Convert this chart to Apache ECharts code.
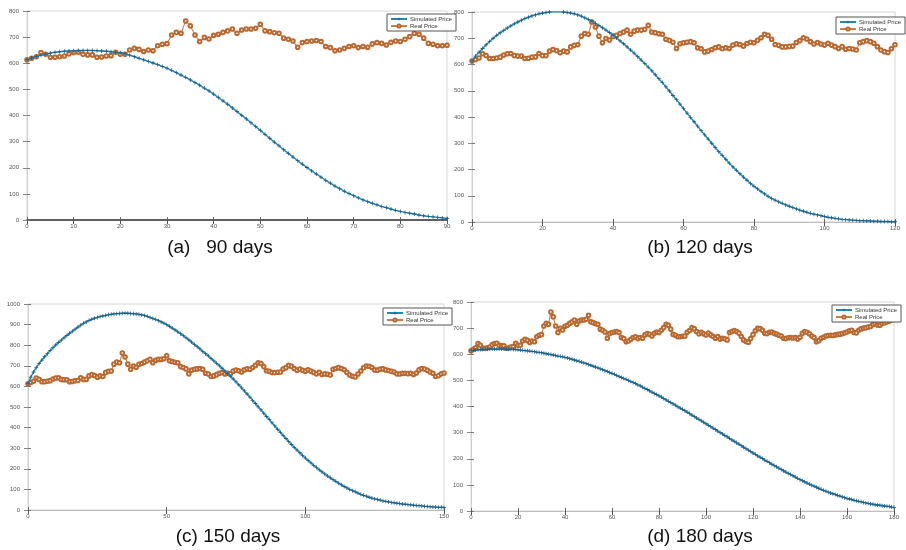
<!DOCTYPE html>
<html>
<head>
<meta charset="utf-8">
<script src="https://cdn.jsdelivr.net/npm/echarts@6/dist/echarts.min.js"></script>
<style>
  html, body { margin: 0; padding: 0; background: #fff; }
  #chart { width: 906px; height: 550px; }
</style>
</head>
<body>
<div id="chart"></div>
<script>
// Real closing price, one value per day (days 0..180)
const realPrice = [
  613, 619, 625, 641, 634, 623, 623, 625, 628, 636,
  641, 642, 634, 632, 632, 623, 624, 628, 629, 642,
  634, 634, 651, 657, 653, 645, 651, 648, 667, 673,
  675, 708, 718, 715, 762, 743, 708, 683, 699, 693,
  707, 711, 718, 724, 731, 715, 727, 731, 731, 734,
  749, 724, 721, 717, 715, 696, 692, 685, 661, 679,
  683, 685, 687, 683, 664, 660, 648, 651, 657, 664,
  667, 660, 664, 661, 674, 679, 676, 670, 680, 685,
  683, 692, 702, 715, 711, 696, 676, 673, 667, 667,
  669, 670, 684, 691, 702, 697, 687, 678, 684, 678,
  674, 681, 674, 668, 661, 668, 658, 661, 659, 655,
  683, 687, 691, 687, 681, 668, 655, 649, 646, 660,
  675, 690, 699, 698, 692, 680, 679, 684, 685, 680,
  677, 673, 670, 661, 660, 663, 664, 662, 664, 658,
  665, 680, 687, 684, 678, 670, 664, 648, 652, 661,
  665, 670, 672, 673, 672, 674, 676, 677, 679, 682,
  685, 690, 692, 683, 682, 692, 697, 700, 701, 704,
  706, 714, 717, 712, 711, 718, 721, 724, 727, 732,
  755
];

// Simulated price, 90-day horizon (days 0..90)
const simulated90 = [
  613, 620, 626, 631, 635, 639, 642, 644, 646, 647,
  648, 649, 649, 649, 649, 648, 647, 646, 644, 642,
  640, 636, 631, 625, 619, 613, 607, 601, 595, 588,
  581, 573, 564, 555, 546, 536, 526, 516, 505, 494,
  482, 469, 456, 443, 429, 415, 401, 387, 372, 358,
  343, 328, 313, 298, 284, 269, 255, 241, 227, 214,
  201, 188, 176, 164, 152, 141, 130, 120, 110, 101,
  93, 85, 77, 70, 64, 58, 52, 47, 42, 37,
  33, 29, 26, 23, 19, 16, 14, 12, 10, 8,
  6
];

// Simulated price, 120-day horizon (days 0..120)
const simulated120 = [
  613, 632, 647, 661, 675, 688, 700, 711, 721, 730,
  739, 747, 755, 762, 769, 775, 780, 785, 789, 793,
  796, 798, 800, 801, 801, 801, 800, 798, 796, 793,
  789, 784, 778, 772, 765, 757, 749, 740, 731, 722,
  712, 701, 690, 679, 667, 655, 643, 630, 617, 604,
  590, 576, 561, 546, 531, 515, 499, 482, 466, 449,
  432, 415, 398, 382, 365, 348, 332, 316, 300, 284,
  268, 253, 239, 224, 210, 197, 184, 171, 159, 147,
  136, 126, 116, 107, 98, 90, 83, 77, 71, 65,
  60, 55, 50, 45, 41, 37, 33, 30, 27, 24,
  21, 18, 16, 14, 12, 10, 9, 8, 7, 6,
  5, 5, 4, 4, 3, 3, 2, 2, 2, 1,
  1
];

// Simulated price, 150-day horizon (days 0..150)
const simulated150 = [
  613, 645, 670, 692, 711, 728, 744, 759, 774, 788,
  801, 813, 825, 836, 847, 858, 868, 878, 888, 897,
  906, 913, 920, 926, 931, 935, 939, 942, 945, 948,
  950, 952, 953, 954, 955, 955, 955, 954, 953, 952,
  950, 947, 944, 940, 935, 930, 925, 919, 913, 907,
  900, 892, 883, 874, 865, 856, 846, 836, 826, 815,
  804, 793, 782, 770, 759, 748, 736, 724, 712, 700,
  688, 675, 662, 649, 636, 622, 608, 593, 578, 563,
  548, 532, 517, 501, 486, 470, 454, 439, 423, 408,
  392, 377, 362, 347, 333, 318, 304, 291, 278, 265,
  252, 240, 229, 217, 206, 195, 185, 175, 165, 156,
  147, 139, 130, 122, 114, 107, 100, 94, 88, 82,
  76, 71, 67, 62, 58, 54, 51, 48, 44, 42,
  39, 37, 35, 33, 31, 29, 28, 26, 25, 23,
  22, 21, 20, 18, 17, 16, 15, 14, 13, 13,
  12
];

// Simulated price, 180-day horizon (days 0..180)
const simulated180 = [
  614, 615, 616, 617, 618, 618, 619, 619, 620, 620,
  620, 620, 620, 620, 620, 620, 619, 619, 618, 618,
  617, 616, 615, 614, 613, 612, 611, 610, 608, 607,
  606, 604, 602, 600, 599, 597, 595, 593, 592, 590,
  588, 586, 583, 581, 578, 575, 573, 570, 567, 564,
  561, 558, 554, 551, 548, 544, 541, 537, 534, 530,
  527, 523, 519, 515, 511, 507, 504, 500, 496, 492,
  488, 483, 479, 474, 469, 465, 460, 455, 450, 446,
  441, 436, 431, 425, 420, 415, 410, 405, 399, 394,
  389, 384, 378, 373, 367, 362, 356, 351, 345, 340,
  334, 328, 323, 317, 312, 306, 300, 295, 289, 284,
  278, 272, 267, 261, 256, 250, 244, 239, 233, 228,
  222, 217, 211, 206, 201, 195, 190, 185, 179, 174,
  169, 164, 159, 154, 149, 144, 140, 135, 130, 125,
  120, 116, 112, 107, 103, 99, 95, 91, 87, 83,
  79, 76, 72, 69, 66, 63, 60, 57, 54, 51,
  48, 46, 44, 41, 39, 37, 35, 33, 31, 29,
  27, 26, 24, 23, 22, 20, 19, 18, 17, 15,
  14
];

// Panel captions and axis extents
const captions = ['(a)   90 days', '(b) 120 days', '(c) 150 days', '(d) 180 days'];
const horizons = [90, 120, 150, 180];
const xSteps = [10, 20, 50, 20];
const yMaxes = [800, 800, 1000, 800];
const ySteps = [100, 100, 100, 100];
const simulatedSets = [simulated90, simulated120, simulated150, simulated180];

// Plot-area placement of each panel (pixels)
const boxes = [
  { left: 27,  top: 11,  width: 420, height: 209 },
  { left: 472, top: 12,  width: 423, height: 210 },
  { left: 28,  top: 304, width: 416, height: 206 },
  { left: 471, top: 302, width: 423, height: 209 }
];
const captionPos = [[220, 248], [700, 248], [228, 537], [700, 537]];
const legendPos = [[387, 14], [836, 17], [383, 308], [832, 305]];

const SIM_NAME = 'Simulated Price';
const REAL_NAME = 'Real Price';
const simColor = '#1f86b5';
const realColor = '#cf7d45';
// small "+" marker resembling a MATLAB asterisk
const plusPath = 'path://M2,0h1v2h2v1h-2v2h-1v-2h-2v-1h2z';

const toPairs = arr => arr.map((v, i) => [i, v]);
const plain = v => String(v);

const grid = [], xAxis = [], yAxis = [], series = [], legend = [], graphic = [];

const tickLabel = { fontSize: 6, color: '#555', fontFamily: 'Liberation Sans, Arial, sans-serif', formatter: plain };

boxes.forEach((b, k) => {
  grid.push(Object.assign({
    show: true, borderColor: '#d6d6d6', borderWidth: 1, backgroundColor: 'transparent',
    containLabel: false
  }, b));

  // bottom / left axes with labels
  xAxis.push({
    type: 'value', gridIndex: k, min: 0, max: horizons[k], interval: xSteps[k],
    axisLine: { show: true, onZero: false, lineStyle: { color: k === 0 ? '#333' : '#bdbdbd', width: k === 0 ? 1.5 : 1 } },
    axisTick: { show: true, inside: true, length: 3, lineStyle: { color: '#666' } },
    axisLabel: Object.assign({ margin: 3 }, tickLabel),
    splitLine: { show: false }
  });
  yAxis.push({
    type: 'value', gridIndex: k, min: 0, max: yMaxes[k], interval: ySteps[k],
    axisLine: { show: true, lineStyle: { color: '#cfcfcf' } },
    axisTick: { show: true, inside: true, length: 3, lineStyle: { color: '#777' } },
    axisLabel: Object.assign({ margin: 8 }, tickLabel),
    splitLine: { show: false }
  });
});

// mirrored top / right axes carrying only ticks, as in a boxed plot
boxes.forEach((b, k) => {
  xAxis.push({
    type: 'value', gridIndex: k, position: 'top', min: 0, max: horizons[k], interval: xSteps[k],
    axisLine: { show: false }, axisLabel: { show: false }, splitLine: { show: false },
    axisTick: { show: true, inside: true, length: 4, lineStyle: { color: '#555' } }
  });
  yAxis.push({
    type: 'value', gridIndex: k, position: 'right', min: 0, max: yMaxes[k], interval: ySteps[k],
    axisLine: { show: false }, axisLabel: { show: false }, splitLine: { show: false },
    axisTick: { show: true, inside: true, length: 4, lineStyle: { color: '#888' } }
  });
});

boxes.forEach((b, k) => {
  const n = horizons[k] + 1;
  series.push({
    name: SIM_NAME, type: 'line', xAxisIndex: k, yAxisIndex: k,
    data: toPairs(simulatedSets[k]),
    symbol: plusPath, symbolSize: 4, showAllSymbol: true,
    lineStyle: { color: simColor, width: 1.4 },
    itemStyle: { color: '#1d5f86' },
    z: 3
  });
  series.push({
    name: REAL_NAME, type: 'line', xAxisIndex: k, yAxisIndex: k,
    data: toPairs(realPrice.slice(0, n)),
    symbol: 'emptyCircle', symbolSize: 3.6, showAllSymbol: true,
    lineStyle: { color: realColor, width: 1.1 },
    itemStyle: { color: '#b9682f', borderWidth: 0.9 },
    z: 2
  });

  legend.push({
    left: legendPos[k][0], top: legendPos[k][1],
    orient: 'vertical', itemGap: 1, itemWidth: 16, itemHeight: 4, padding: [2, 4, 2, 3],
    borderColor: '#555', borderWidth: 1, backgroundColor: '#fff',
    data: [SIM_NAME, REAL_NAME],
    textStyle: { fontSize: 6, color: '#333', fontFamily: 'Liberation Sans, Arial, sans-serif', padding: [0, 0, 0, -2] }
  });

  graphic.push({
    type: 'text', x: captionPos[k][0], y: captionPos[k][1], silent: true,
    style: {
      text: captions[k], fill: '#111',
      font: '19px "Liberation Sans", Arial, sans-serif',
      textAlign: 'center', textVerticalAlign: 'middle'
    }
  });
});

const chart = echarts.init(document.getElementById('chart'), null, { renderer: 'canvas' });
chart.setOption({
  animation: false,
  backgroundColor: '#fff',
  grid, xAxis, yAxis, series, legend, graphic
});
</script>
</body>
</html>
